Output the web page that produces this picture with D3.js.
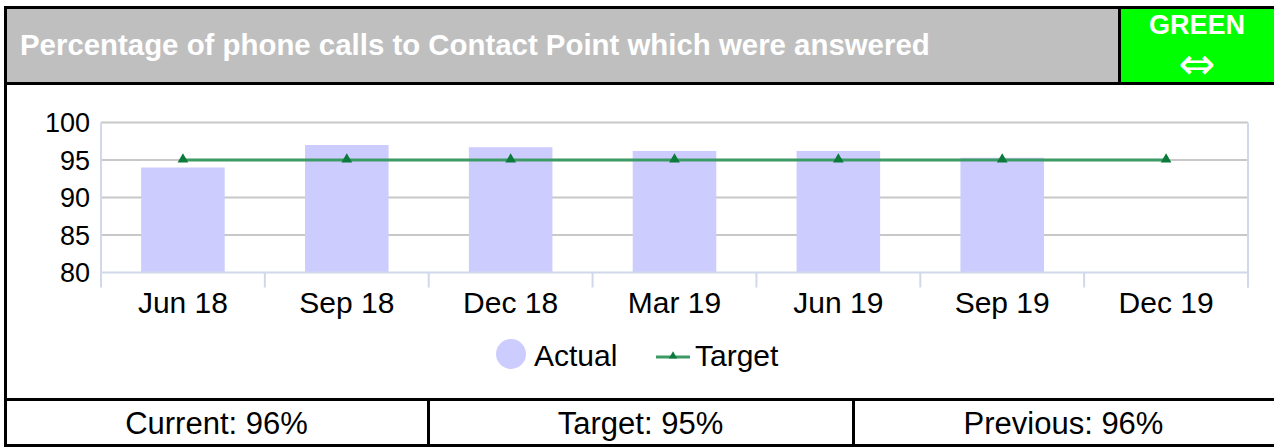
<!DOCTYPE html>
<html>
<head>
<meta charset="utf-8">
<script src="https://cdn.jsdelivr.net/npm/d3@7"></script>
<style>
  body { margin: 0; background: #fff; }
  text { font-family: "Liberation Sans", Arial, sans-serif; }
</style>
</head>
<body>
<div id="chart"></div>
<script>
// chart data
var quarters = ["Jun 18", "Sep 18", "Dec 18", "Mar 19", "Jun 19", "Sep 19", "Dec 19"];
var actual = [94.0, 97.0, 96.7, 96.2, 96.2, 95.3, null];
var target = [95, 95, 95, 95, 95, 95, 95];
var yTicks = [80, 85, 90, 95, 100];
var titleText = "Percentage of phone calls to Contact Point which were answered";
var statusText = "GREEN";
var summary = ["Current: 96%", "Target: 95%", "Previous: 96%"];

var W = 1274, H = 448;

var svg = d3.select("#chart").append("svg")
    .attr("width", W)
    .attr("height", H);

// header
svg.append("rect")
    .attr("x", 5).attr("y", 7).attr("width", 1115).attr("height", 76)
    .attr("fill", "#bfbfbf");
svg.append("rect")
    .attr("x", 1120).attr("y", 7).attr("width", 154).attr("height", 76)
    .attr("fill", "#00ff00");

svg.append("text")
    .attr("x", 20).attr("y", 55)
    .attr("fill", "#fff")
    .attr("font-weight", "bold")
    .attr("font-size", 29.4)
    .text(titleText);

svg.append("text")
    .attr("x", 1197).attr("y", 34)
    .attr("text-anchor", "middle")
    .attr("fill", "#fff")
    .attr("font-weight", "bold")
    .attr("font-size", 27)
    .text(statusText);

svg.append("text")
    .attr("x", 1197).attr("y", 79)
    .attr("text-anchor", "middle")
    .attr("fill", "#fff")
    .attr("font-size", 44)
    .style("font-family", "DejaVu Sans")
    .text("\u21d4");

// plot
var x = d3.scaleBand()
    .domain(quarters)
    .range([101, 1248])
    .paddingInner(0.49)
    .paddingOuter(0.245);

var y = d3.scaleLinear()
    .domain([80, 100])
    .range([272.5, 122.5]);

var plot = svg.append("g");

// gridlines
plot.selectAll(".grid")
    .data(yTicks.filter(function(d) { return d > 80; }))
    .enter().append("line")
    .attr("class", "grid")
    .attr("x1", 101).attr("x2", 1248)
    .attr("y1", function(d) { return y(d); })
    .attr("y2", function(d) { return y(d); })
    .attr("stroke", "#c8c8c8")
    .attr("stroke-width", 2);

// bars
plot.selectAll(".bar")
    .data(quarters.filter(function(d, i) { return actual[i] != null; }))
    .enter().append("rect")
    .attr("class", "bar")
    .attr("x", function(d) { return x(d); })
    .attr("width", x.bandwidth())
    .attr("y", function(d) { return y(actual[quarters.indexOf(d)]); })
    .attr("height", function(d) { return y(80) - y(actual[quarters.indexOf(d)]); })
    .attr("fill", "#ccccff");

// axes lines
var axisCol = "#d0d8ea";
plot.append("line")
    .attr("x1", 101).attr("x2", 101)
    .attr("y1", y(100)).attr("y2", y(80))
    .attr("stroke", axisCol).attr("stroke-width", 2);
plot.append("line")
    .attr("x1", 1248).attr("x2", 1248)
    .attr("y1", y(100)).attr("y2", y(80) + 15)
    .attr("stroke", axisCol).attr("stroke-width", 2);
plot.append("line")
    .attr("x1", 101).attr("x2", 1248)
    .attr("y1", y(80)).attr("y2", y(80))
    .attr("stroke", axisCol).attr("stroke-width", 2);

// category boundary ticks
var step = x.step();
plot.selectAll(".xtick")
    .data(d3.range(quarters.length + 1))
    .enter().append("line")
    .attr("class", "xtick")
    .attr("x1", function(i) { return 101 + i * step; })
    .attr("x2", function(i) { return 101 + i * step; })
    .attr("y1", y(80)).attr("y2", y(80) + 15)
    .attr("stroke", axisCol).attr("stroke-width", 2);

// x labels
plot.selectAll(".xlab")
    .data(quarters)
    .enter().append("text")
    .attr("class", "xlab")
    .attr("x", function(d) { return x(d) + x.bandwidth() / 2; })
    .attr("y", 313)
    .attr("text-anchor", "middle")
    .attr("font-size", 30)
    .attr("fill", "#000")
    .text(function(d) { return d; });

// y labels
plot.selectAll(".ylab")
    .data(yTicks)
    .enter().append("text")
    .attr("class", "ylab")
    .attr("x", 90)
    .attr("y", function(d) { return y(d) + 9.5; })
    .attr("text-anchor", "end")
    .attr("font-size", 27)
    .attr("fill", "#000")
    .text(function(d) { return d; });

// target line
var line = d3.line()
    .x(function(d, i) { return x(quarters[i]) + x.bandwidth() / 2; })
    .y(function(d) { return y(d); });

plot.append("path")
    .datum(target)
    .attr("d", line)
    .attr("fill", "none")
    .attr("stroke", "#3c9a64")
    .attr("stroke-width", 3);

var tri = d3.symbol().type(d3.symbolTriangle).size(50);
plot.selectAll(".marker")
    .data(target)
    .enter().append("path")
    .attr("class", "marker")
    .attr("d", tri)
    .attr("transform", function(d, i) {
        return "translate(" + (x(quarters[i]) + x.bandwidth() / 2) + "," + (y(d) - 0.5) + ")";
    })
    .attr("fill", "#0b7a3b");

// legend
var leg = svg.append("g");
leg.append("circle")
    .attr("cx", 511).attr("cy", 354).attr("r", 15)
    .attr("fill", "#ccccff");
leg.append("text")
    .attr("x", 534).attr("y", 366)
    .attr("font-size", 30)
    .text("Actual");
leg.append("line")
    .attr("x1", 656).attr("x2", 690)
    .attr("y1", 357).attr("y2", 357)
    .attr("stroke", "#3c9a64").attr("stroke-width", 3);
leg.append("path")
    .attr("d", d3.symbol().type(d3.symbolTriangle).size(30))
    .attr("transform", "translate(673,356)")
    .attr("fill", "#0b7a3b");
leg.append("text")
    .attr("x", 695).attr("y", 366)
    .attr("font-size", 30)
    .text("Target");

// summary row
var cellEdges = [5, 428, 853, 1274];
svg.selectAll(".sum")
    .data(summary)
    .enter().append("text")
    .attr("class", "sum")
    .attr("x", function(d, i) { return (cellEdges[i] + cellEdges[i + 1]) / 2; })
    .attr("y", 434)
    .attr("text-anchor", "middle")
    .attr("font-size", 31)
    .attr("fill", "#000")
    .text(function(d) { return d; });

// frame lines
var frame = svg.append("g")
    .attr("stroke", "#000")
    .attr("stroke-width", 3)
    .attr("fill", "none");
frame.append("rect").attr("x", 5.5).attr("y", 7.5).attr("width", 1270).attr("height", 438);
frame.append("line").attr("x1", 5).attr("x2", 1274).attr("y1", 83.5).attr("y2", 83.5);
frame.append("line").attr("x1", 1119.5).attr("x2", 1119.5).attr("y1", 7).attr("y2", 83);
frame.append("line").attr("x1", 5).attr("x2", 1274).attr("y1", 399.5).attr("y2", 399.5);
frame.append("line").attr("x1", 428.5).attr("x2", 428.5).attr("y1", 399).attr("y2", 446);
frame.append("line").attr("x1", 853.5).attr("x2", 853.5).attr("y1", 399).attr("y2", 446);
</script>
</body>
</html>
